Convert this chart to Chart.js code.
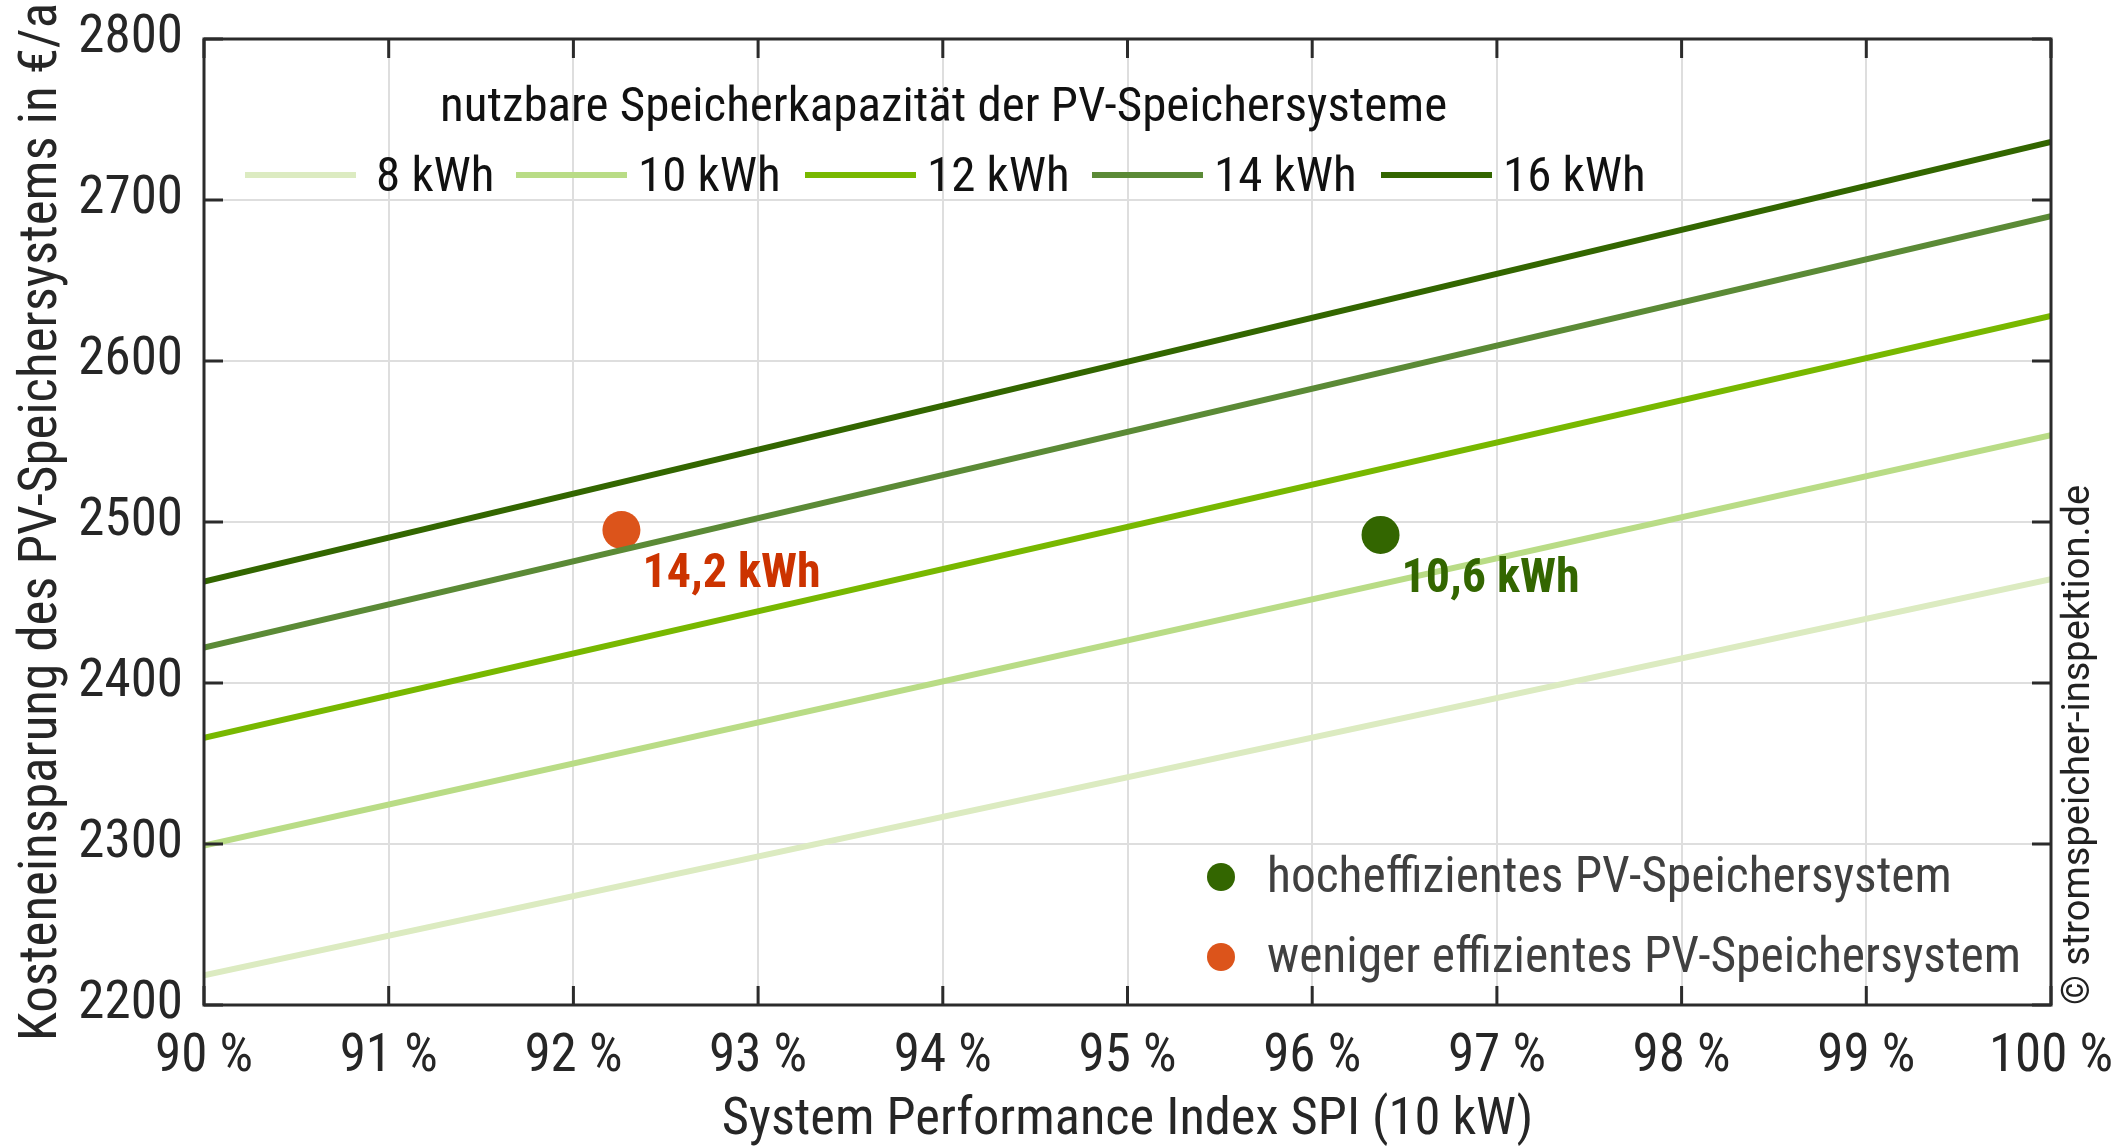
<!DOCTYPE html>
<html>
<head>
<meta charset="utf-8">
<title>Kosteneinsparung und SPI</title>
<script src="https://cdn.jsdelivr.net/npm/chart.js@4.4.0/dist/chart.umd.min.js"></script>
<style>
    html, body { margin: 0; padding: 0; background: #fff; }
    canvas { display: block; }
</style>
</head>
<body>
<canvas id="spiChart" width="2125" height="1147"></canvas>
<script>
// === Data ===
// System Performance Index in %, savings in €/a per usable storage capacity
const spiValues = [90, 100];
const capacityLabels = ['8 kWh', '10 kWh', '12 kWh', '14 kWh', '16 kWh'];
const saving8kWh = [2218.5, 2464.5];
const saving10kWh = [2299, 2554];
const saving12kWh = [2366, 2628];
const saving14kWh = [2422, 2690];
const saving16kWh = [2463, 2736];

// two example storage systems
const systemNames = ['hocheffizientes PV-Speichersystem', 'weniger effizientes PV-Speichersystem'];
const systemCapacity = ['10,6 kWh', '14,2 kWh'];
const systemSpi = [96.37, 92.26];
const systemSaving = [2492, 2495];

// axis ticks
const xTicks = [90, 91, 92, 93, 94, 95, 96, 97, 98, 99, 100];
const yTicks = [2200, 2300, 2400, 2500, 2600, 2700, 2800];

const legendTitle = 'nutzbare Speicherkapazität der PV-Speichersysteme';
const copyrightText = '© stromspeicher-inspektion.de';

// === Styles ===
const FONT = '"Roboto Condensed", "Liberation Sans Narrow", "DejaVu Sans Condensed", sans-serif';
const lineColors = ['#dcebc1', '#b9dc86', '#78b800', '#5b8a36', '#336600'];
const systemColors = ['#336600', '#dc541b'];
const systemLabelColors = ['#336600', '#cc3300'];

Chart.defaults.font.family = FONT;
Chart.defaults.color = '#262626';

const seriesValues = [saving8kWh, saving10kWh, saving12kWh, saving14kWh, saving16kWh];

const lineDatasets = seriesValues.map((values, i) => ({
    label: capacityLabels[i],
    data: values.map((v, j) => ({ x: spiValues[j], y: v })),
    borderColor: lineColors[i],
    borderWidth: 6,
    pointRadius: 0,
    fill: false
}));

const pointDatasets = systemNames.map((name, i) => ({
    label: name,
    data: [{ x: systemSpi[i], y: systemSaving[i] }],
    showLine: false,
    pointRadius: 19,
    pointHoverRadius: 19,
    pointBackgroundColor: systemColors[i],
    pointBorderWidth: 0,
    capLabel: systemCapacity[i],
    capColor: systemLabelColors[i]
}));

// === Decorations: box with inner ticks, legends, point labels ===
const decorations = {
    id: 'decorations',
    afterDatasetsDraw(chart) {
        const { ctx, chartArea: a, scales: { x, y } } = chart;
        ctx.save();

        // labels next to the two example systems
        ctx.font = `bold 48px ${FONT}`;
        ctx.textAlign = 'left';
        ctx.textBaseline = 'middle';
        pointDatasets.forEach(ds => {
            const p = ds.data[0];
            ctx.fillStyle = ds.capColor;
            ctx.fillText(ds.capLabel, x.getPixelForValue(p.x) + 21, y.getPixelForValue(p.y) + 45);
        });

        // frame
        ctx.strokeStyle = '#2b2b2b';
        ctx.lineWidth = 3;
        ctx.strokeRect(a.left, a.top, a.right - a.left, a.bottom - a.top);

        // inner tick marks
        const tl = 19;
        ctx.beginPath();
        xTicks.forEach(v => {
            const px = x.getPixelForValue(v);
            ctx.moveTo(px, a.bottom); ctx.lineTo(px, a.bottom - tl);
            ctx.moveTo(px, a.top); ctx.lineTo(px, a.top + tl);
        });
        yTicks.forEach(v => {
            const py = y.getPixelForValue(v);
            ctx.moveTo(a.left, py); ctx.lineTo(a.left + tl, py);
            ctx.moveTo(a.right, py); ctx.lineTo(a.right - tl, py);
        });
        ctx.stroke();

        // capacity legend
        ctx.fillStyle = '#111';
        ctx.font = `49px ${FONT}`;
        ctx.textBaseline = 'middle';
        ctx.fillText(legendTitle, 440, 109);
        const sampleX = [245, 516, 805, 1092, 1381];
        lineDatasets.forEach((ds, i) => {
            ctx.strokeStyle = ds.borderColor;
            ctx.lineWidth = 6;
            ctx.beginPath();
            ctx.moveTo(sampleX[i], 175);
            ctx.lineTo(sampleX[i] + 111, 175);
            ctx.stroke();
            ctx.fillStyle = '#111';
            ctx.fillText(ds.label, sampleX[i] + (i === 0 ? 131 : 122), 179);
        });

        // system legend
        ctx.font = `49.5px ${FONT}`;
        pointDatasets.forEach((ds, i) => {
            const cy = 877 + i * 80;
            ctx.fillStyle = ds.pointBackgroundColor;
            ctx.beginPath();
            ctx.arc(1221, cy, 14, 0, Math.PI * 2);
            ctx.fill();
            ctx.fillStyle = '#404040';
            ctx.fillText(ds.label, 1267, cy + 3);
        });

        // vertical copyright
        ctx.translate(2079, a.bottom);
        ctx.rotate(-Math.PI / 2);
        ctx.font = '38px Roboto, sans-serif';
        ctx.fillStyle = '#222';
        ctx.textAlign = 'left';
        ctx.fillText(copyrightText, 0, 0);

        ctx.restore();
    }
};

// === Chart ===
new Chart(document.getElementById('spiChart').getContext('2d'), {
    type: 'line',
    data: { datasets: [...lineDatasets, ...pointDatasets] },
    options: {
        responsive: false,
        devicePixelRatio: 1,
        animation: false,
        events: [],
        layout: { padding: { top: 39, right: 74, left: 0, bottom: 0 } },
        plugins: {
            legend: { display: false },
            tooltip: { enabled: false }
        },
        scales: {
            x: {
                type: 'linear',
                min: 90,
                max: 100,
                afterFit: s => { s.height = 142; s.paddingLeft = 0; s.paddingRight = 0; },
                afterBuildTicks: s => { s.ticks = xTicks.map(v => ({ value: v })); },
                ticks: {
                    callback: v => v + ' %',
                    font: { size: 53 },
                    padding: 21,
                    maxRotation: 0,
                    autoSkip: false
                },
                grid: { color: '#dedede', lineWidth: 2, drawTicks: false },
                border: { display: false },
                title: {
                    display: true,
                    text: 'System Performance Index SPI (10 kW)',
                    font: { size: 52.5, lineHeight: 1 },
                    padding: { top: 1, bottom: 0 }
                }
            },
            y: {
                type: 'linear',
                min: 2200,
                max: 2800,
                afterFit: s => { s.width = 204; s.paddingTop = 0; s.paddingBottom = 0; },
                afterBuildTicks: s => { s.ticks = yTicks.map(v => ({ value: v })); },
                ticks: {
                    callback: v => String(v),
                    font: { size: 53 },
                    padding: 21
                },
                grid: { color: '#dedede', lineWidth: 2, drawTicks: false },
                border: { display: false },
                title: {
                    display: true,
                    text: 'Kosteneinsparung des PV-Speichersystems in €/a',
                    font: { size: 53, lineHeight: 1 },
                    padding: { top: 16, bottom: 0 }
                }
            }
        }
    },
    plugins: [decorations]
});
</script>
</body>
</html>
